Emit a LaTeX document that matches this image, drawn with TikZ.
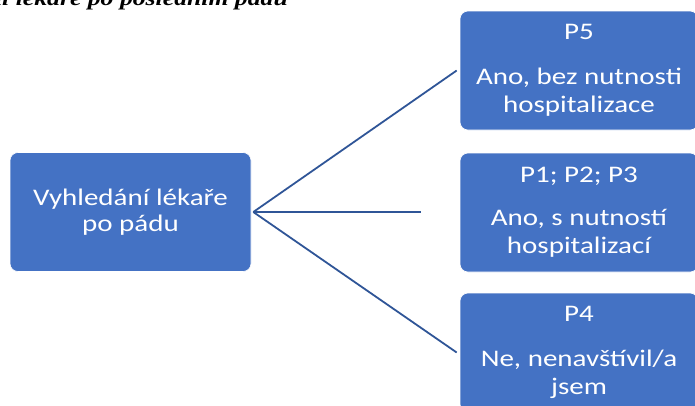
\documentclass[tikz,border=0pt]{standalone}
\usepackage{graphicx}
\usepackage{fontspec}
\setmainfont{Carlito}
\newfontfamily\captionfont{Liberation Serif}
\definecolor{boxblue}{RGB}{68,114,196}
\definecolor{linkblue}{RGB}{47,85,151}
\newcommand{\squash}[1]{\scalebox{1}[0.82]{#1}}
\begin{document}
\begin{tikzpicture}[x=1pt,y=-1pt,
  box/.style={rounded corners=8pt, fill=boxblue, draw=white, line width=0.6pt,
    minimum width=238pt, minimum height=119pt, inner sep=0pt, text=white,
    font=\fontsize{29}{34.2}\selectfont},
  link/.style={draw=linkblue, line width=1.8pt}]
\useasboundingbox (0,0) rectangle (695,405);
\clip (0,0) rectangle (695,405);

% caption above the chart (cut at the top edge)
\node[anchor=base east, inner sep=0pt, font=\captionfont\bfseries\itshape\fontsize{25.7}{30}\selectfont]
  (caption) at (288,5) {\squash{Vyhledání lékaře po posledním pádu}};

% root box
\node[box, minimum width=241pt] (root) at (130.5,212)
  {\squash{\parbox{236pt}{\centering Vyhledání lékaře\\[-3pt] po pádu}}};

% answer boxes
\node[box] (p5) at (579,70.5)
  {\squash{\parbox{236pt}{\centering P5\\[20pt] Ano, bez nutnosti\\ hospitalizace}}};
\node[box] (p123) at (579,212.5)
  {\squash{\parbox{236pt}{\centering P1; P2; P3\\[18pt] Ano, s nutností\\ hospitalizací}}};
\node[box] (p4) at (579,352.5)
  {\squash{\parbox{236pt}{\centering P4\\[20pt] Ne, nenavštívil/a\\ jsem}}};

% connectors
\coordinate (mid) at (421,212);
\draw[link] ([xshift=2pt]root.east) -- ([xshift=-3pt]p5.west);
\draw[link] ([xshift=2pt]root.east) -- (mid);
\draw[link] ([xshift=2pt]root.east) -- ([xshift=-3pt]p4.west);
\end{tikzpicture}
\end{document}
